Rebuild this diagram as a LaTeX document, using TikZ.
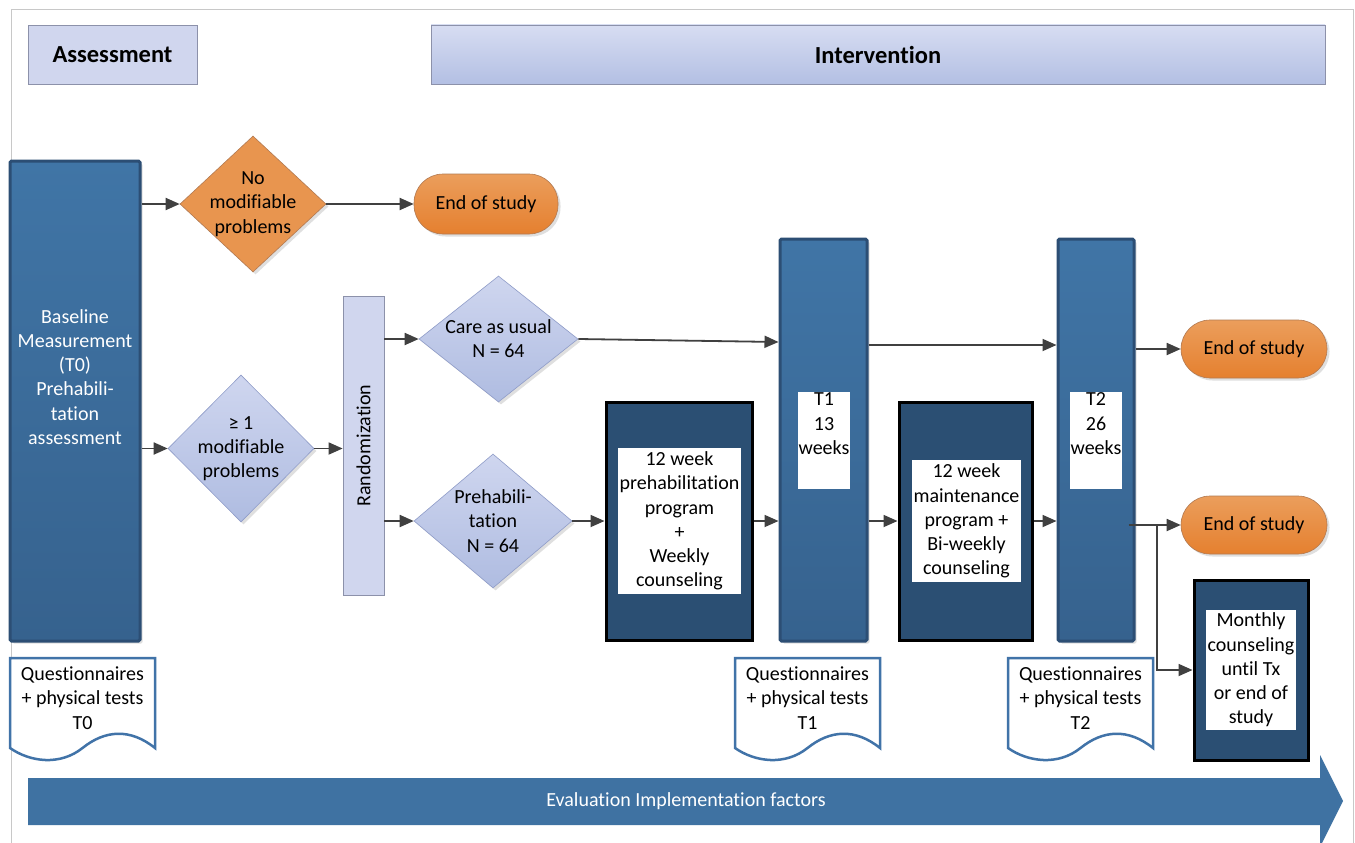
\documentclass[tikz,border=0pt]{standalone}
\usepackage{fontspec}
\setmainfont{Carlito}[Ligatures={NoCommon}]
\usetikzlibrary{shapes.geometric,arrows.meta,shadows,calc}
\definecolor{frameg}{HTML}{C8C8C8}
\definecolor{hdrfill}{HTML}{D0D6EE}
\definecolor{hdrdraw}{HTML}{8C91AA}
\definecolor{intTop}{HTML}{D7DDF2}
\definecolor{intBot}{HTML}{B3BFE3}
\definecolor{barTop}{HTML}{4075A6}
\definecolor{barBot}{HTML}{36628E}
\definecolor{barDraw}{HTML}{2C4E74}
\definecolor{oraTop}{HTML}{EB9E5C}
\definecolor{oraBot}{HTML}{E5802F}
\definecolor{oraDraw}{HTML}{B27A52}
\definecolor{oraDia}{HTML}{E8954F}
\definecolor{diaTop}{HTML}{CFD6EF}
\definecolor{diaBot}{HTML}{AFBCE1}
\definecolor{diaDraw}{HTML}{8F9CC8}
\definecolor{navy}{HTML}{2B4F73}
\definecolor{docDraw}{HTML}{4173A8}
\definecolor{arrCol}{HTML}{404040}
\definecolor{evalCol}{HTML}{3F72A2}
\tikzset{
  txt/.style={align=center, font=\fontsize{20}{24.2}\selectfont, inner sep=0pt},
  wtxt/.style={txt, text=white},
  hdr/.style={font=\fontsize{24.5}{29}\selectfont\bfseries, inner sep=0pt},
  arr/.style={draw=arrCol, line width=1.8pt, -{Triangle[length=14pt,width=12pt]}},
  shad/.style={drop shadow={shadow xshift=2.5pt, shadow yshift=-2.5pt, opacity=0.25, fill=gray}},
  bar/.style={rectangle, inner sep=0pt, top color=barTop, bottom color=barBot, draw=barDraw, line width=3pt, rounded corners=1.5pt, shad},
  navybox/.style={rectangle, inner sep=0pt, fill=navy, draw=black, line width=3pt},
  whitebox/.style={rectangle, inner sep=0pt, fill=white},
  pill/.style={rectangle, rounded corners=29pt, inner sep=0pt, top color=oraTop, bottom color=oraBot, draw=oraDraw, line width=0.6pt, shad, font=\fontsize{20}{24.2}\selectfont},
  odia/.style={diamond, inner sep=0pt, fill=oraDia, draw=oraDraw, line width=0.6pt, shad},
  bdia/.style={diamond, inner sep=0pt, top color=diaTop, bottom color=diaBot, draw=diaDraw, line width=0.6pt, shad},
  lav/.style={rectangle, inner sep=0pt, fill=hdrfill, draw=hdrdraw, line width=0.8pt},
  docline/.style={draw=docDraw, fill=white, line width=2.5pt, line join=miter},
  qdoc/.pic={
    \path[docline] (145,90) -- (145,0) -- (0,0) -- (0,90)
      .. controls (20,104) and (50,108) .. (72.5,90)
      .. controls (95,72) and (120,70) .. (145,90) -- cycle;
  }
}
\begin{document}
\begin{tikzpicture}[x=1pt,y=-1pt]
\useasboundingbox (0,0) rectangle (1355,843);
\fill[white] (0,0) rectangle (1355,843);
% frame
\draw[frameg, line width=1pt] (11,860) -- (11,10) -- (1353,10) -- (1353,860);

% headers
\node[lav, minimum width=169pt, minimum height=59pt, hdr] (assess) at (112.5,54.5) {Assessment};
\node[rectangle, inner sep=0pt, top color=intTop, bottom color=intBot, draw=hdrdraw, line width=0.8pt,
      minimum width=894pt, minimum height=59pt, hdr] (interv) at (878,54.5) {Intervention};

% baseline bar
\node[bar, minimum width=130pt, minimum height=480pt] (base) at (75,401) {};
\node[wtxt] (basetxt) at (75,377) {Baseline\\Measurement\\(T0)\\Prehabili-\\tation\\assessment};

% no modifiable problems
\node[odia, minimum width=146pt, minimum height=136pt] (nomod) at (253,204) {};
\node[txt] (nomodtxt) at (nomod.center) {No\\modifiable\\problems};
\node[pill, minimum width=144pt, minimum height=60pt] (eos1) at (486,204) {End of study};

% >= 1 modifiable
\node[bdia, minimum width=146pt, minimum height=147pt] (ge) at (241,448.5) {};
\node[txt] (getxt) at (ge.center) {≥ 1\\modifiable\\problems};

% randomization
\node[lav, minimum width=41pt, minimum height=299pt] (rand) at (363.5,445.5) {};
\node[txt, rotate=90] (randtxt) at (rand.center) {Randomization};

% care as usual / prehab
\node[bdia, minimum width=159pt, minimum height=126pt] (care) at (498.5,339) {};
\node[txt] (caretxt) at (care.center) {Care as usual\\N = 64};
\node[bdia, minimum width=158pt, minimum height=134pt] (preh) at (493,521) {};
\node[txt] (prehtxt) at (preh.center) {Prehabili-\\tation\\N = 64};

% 12 week program
\node[navybox, minimum width=146pt, minimum height=238pt] (prog) at (679,521) {};
\node[whitebox, minimum width=123pt, minimum height=146pt] (progin) at (679.5,521) {};
\node[txt] (progtxt) at (progin.center) {12 week\\prehabilitation\\program\\+\\Weekly\\counseling};

% T1
\node[bar, minimum width=87pt, minimum height=402pt] (T1) at (823.5,440) {};
\node[whitebox, minimum width=52pt, minimum height=97pt] (T1in) at (824,440.5) {};
\node[txt, anchor=north] (T1txt) at ([yshift=-1pt]T1in.north) {T1\\13\\weeks};

% maintenance
\node[navybox, minimum width=133pt, minimum height=238pt] (maint) at (965.5,521) {};
\node[whitebox, minimum width=109pt, minimum height=122pt] (maintin) at (966.5,521) {};
\node[txt] (mainttxt) at (maintin.center) {12 week\\maintenance\\program +\\Bi-weekly\\counseling};

% T2
\node[bar, minimum width=76pt, minimum height=402pt] (T2) at (1096,440) {};
\node[whitebox, minimum width=52pt, minimum height=97pt] (T2in) at (1096,440.5) {};
\node[txt, anchor=north] (T2txt) at ([yshift=-1pt]T2in.north) {T2\\26\\weeks};

% end of study right
\node[pill, minimum width=146pt, minimum height=58pt] (eos2) at (1254,349) {End of study};
\node[pill, minimum width=146pt, minimum height=58pt] (eos3) at (1254,525) {End of study};

% monthly counseling
\node[navybox, minimum width=114pt, minimum height=180pt] (monthly) at (1251,670) {};
\node[whitebox, minimum width=90pt, minimum height=120pt] (monthin) at (1251,670) {};
\node[txt] (monthtxt) at (monthin.center) {Monthly\\counseling\\until Tx\\or end of\\study};

% documents
\pic at (10,658) {qdoc};
\node[txt] (q0) at (82.5,698) {Questionnaires\\+ physical tests\\T0};
\pic at (735,658) {qdoc};
\node[txt] (q1) at (807.5,698) {Questionnaires\\+ physical tests\\T1};
\pic at (1008,658) {qdoc};
\node[txt] (q2) at (1080.5,698) {Questionnaires\\+ physical tests\\T2};

% evaluation arrow
\fill[evalCol] (28,778) -- (1320,778) -- (1320,755) -- (1343,801) -- (1320,847) -- (1320,825) -- (28,825) -- cycle;
\node[wtxt] (evaltxt) at (686,801) {Evaluation Implementation factors};

% connectors
\draw[arr] (base.east |- nomod) -- (nomod.west);
\draw[arr] (nomod.east) -- (eos1.west);
\draw[arr] (base.east |- ge) -- (ge.west);
\draw[arr] (ge.east) -- (rand.west |- ge);
\draw[arr] (rand.east |- care) -- (care.west);
\draw[arr] (rand.east |- preh) -- (preh.west);
\draw[arr] (preh.east) -- (prog.west |- preh);
\draw[arr] (care.east) -- ($(T1.west |- care)+(0,3)$);
\draw[arr] (prog.east |- preh) -- (T1.west |- preh);
\draw[arr] ($(T1.east |- eos2)+(0,-4)$) -- ($(T2.west |- eos2)+(0,-4)$);
\draw[arr] (T1.east |- preh) -- (maint.west |- preh);
\draw[arr] (maint.east |- preh) -- (T2.west |- preh);
\draw[arr] (T2.east |- eos2) -- (eos2.west);
\draw[arr] ($(T2.east |- eos3)+(-7,0)$) -- (eos3.west);
\coordinate (br) at (1157,525);
\draw[arr] (br) |- (monthly.west);
\end{tikzpicture}
\end{document}
